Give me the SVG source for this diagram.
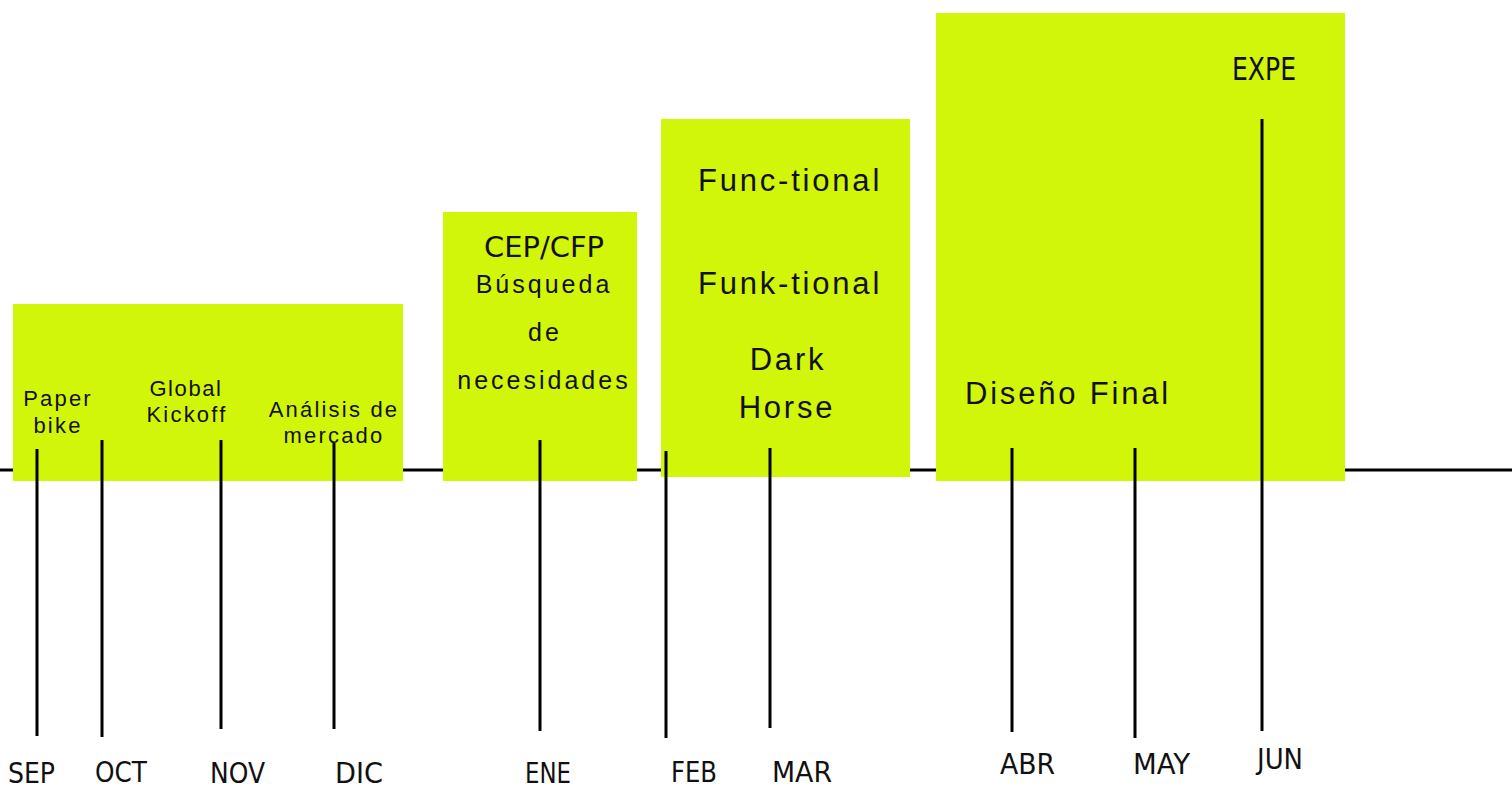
<svg xmlns="http://www.w3.org/2000/svg" width="1512" height="787" viewBox="0 0 1512 787">
  <style>
    .phase { fill: #D2F60A; }
    .axis { stroke: #000; stroke-width: 3; fill: none; }
    .tick { stroke: #000; stroke-width: 3; fill: none; }
    .lbl { font-family: "Liberation Sans", Arial, sans-serif; fill: #111; text-anchor: middle; }
    .s22 { font-size: 22px; letter-spacing: 2.2px; }
    .s25 { font-size: 25px; letter-spacing: 3px; }
    .s31 { font-size: 31px; letter-spacing: 2.8px; }
    .narrow { font-family: "DejaVu Sans Condensed", "Liberation Sans Narrow", sans-serif; fill: #111; }
    .month { font-size: 28px; }
  </style>

  <rect width="1512" height="787" fill="#fff"/>

  <!-- timeline axis -->
  <g id="axis">
    <line class="axis" x1="0" y1="470" x2="1512" y2="470"/>
  </g>

  <!-- phase blocks -->
  <g id="phase-1">
    <rect class="phase" x="13" y="304" width="390" height="177"/>
    <text class="lbl s22" x="58" y="406">Paper</text>
    <text class="lbl s22" x="58" y="433">bike</text>
    <text class="lbl s22" x="186" y="396" style="letter-spacing:1.6px">Global</text>
    <text class="lbl s22" x="187" y="422">Kickoff</text>
    <text class="lbl s22" x="334" y="417">Análisis de</text>
    <text class="lbl s22" x="334" y="443">mercado</text>
  </g>

  <g id="phase-2">
    <rect class="phase" x="443" y="212" width="194" height="269"/>
    <text class="narrow" x="484" y="257" style="font-size:28px" textLength="120" lengthAdjust="spacingAndGlyphs">CEP/CFP</text>
    <text class="lbl s25" x="544" y="293">Búsqueda</text>
    <text class="lbl s25" x="545" y="341">de</text>
    <text class="lbl s25" x="544" y="389">necesidades</text>
  </g>

  <g id="phase-3">
    <rect class="phase" x="661" y="119" width="249" height="358"/>
    <text class="lbl s31" x="790" y="191">Func-tional</text>
    <text class="lbl s31" x="790" y="294">Funk-tional</text>
    <text class="lbl s31" x="788" y="370">Dark</text>
    <text class="lbl s31" x="787" y="418">Horse</text>
  </g>

  <g id="phase-4">
    <rect class="phase" x="936" y="13" width="409" height="468"/>
    <text class="lbl s31" x="965" y="404" style="text-anchor:start">Diseño Final</text>
    <text class="narrow" x="1232" y="80" style="font-size:32px" textLength="64" lengthAdjust="spacingAndGlyphs">EXPE</text>
  </g>

  <!-- month markers -->
  <g id="connectors">
    <line class="tick" x1="37" y1="449" x2="37" y2="736"/>
    <line class="tick" x1="102" y1="440" x2="102" y2="737"/>
    <line class="tick" x1="221" y1="440" x2="221" y2="729"/>
    <line class="tick" x1="334" y1="443" x2="334" y2="729"/>
    <line class="tick" x1="540" y1="440" x2="540" y2="731"/>
    <line class="tick" x1="666" y1="451" x2="666" y2="738"/>
    <line class="tick" x1="770" y1="448" x2="770" y2="728"/>
    <line class="tick" x1="1012" y1="448" x2="1012" y2="732"/>
    <line class="tick" x1="1135" y1="448" x2="1135" y2="738"/>
    <line class="tick" x1="1262" y1="119" x2="1262" y2="731"/>
  </g>

  <g id="months" class="narrow month">
    <text x="8" y="783" textLength="47" lengthAdjust="spacingAndGlyphs">SEP</text>
    <text x="95" y="782" textLength="52" lengthAdjust="spacingAndGlyphs">OCT</text>
    <text x="210" y="783" textLength="55" lengthAdjust="spacingAndGlyphs">NOV</text>
    <text x="335" y="783" textLength="48" lengthAdjust="spacingAndGlyphs">DIC</text>
    <text x="525" y="783" textLength="46" lengthAdjust="spacingAndGlyphs">ENE</text>
    <text x="671" y="782" textLength="46" lengthAdjust="spacingAndGlyphs">FEB</text>
    <text x="772" y="782" textLength="60" lengthAdjust="spacingAndGlyphs">MAR</text>
    <text x="1000" y="774" textLength="55" lengthAdjust="spacingAndGlyphs">ABR</text>
    <text x="1133" y="774" textLength="57" lengthAdjust="spacingAndGlyphs">MAY</text>
    <text x="1257" y="769" textLength="46" lengthAdjust="spacingAndGlyphs">JUN</text>
  </g>
</svg>
